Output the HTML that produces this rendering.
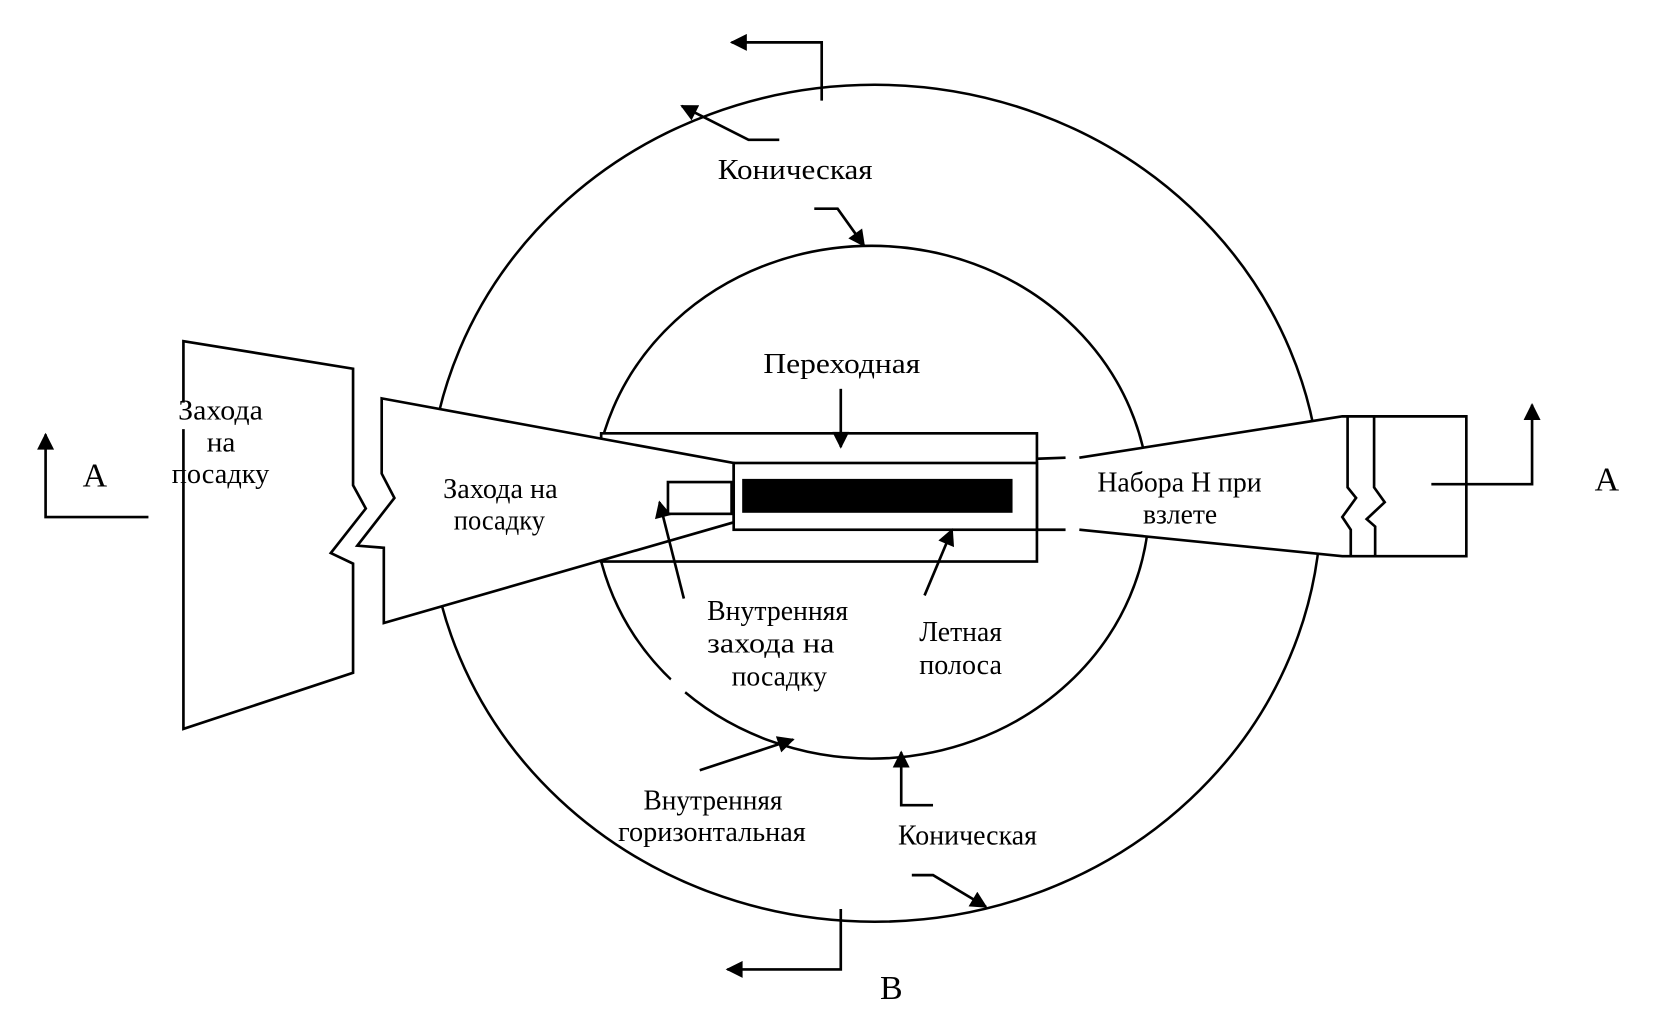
<!DOCTYPE html>
<html><head><meta charset="utf-8"><style>
html,body{margin:0;padding:0;background:#fff;}
svg{display:block;}
text{font-family:"Liberation Serif",serif;font-size:27px;fill:#000;}
</style></head><body>
<svg width="1654" height="1033" viewBox="0 0 1560 975" preserveAspectRatio="none" xmlns="http://www.w3.org/2000/svg">
<defs>
<marker id="ah2" viewBox="0 0 10 10" refX="9" refY="5" markerWidth="18" markerHeight="16" orient="auto" markerUnits="userSpaceOnUse">
<path d="M0,0 L10,5 L0,10 z" fill="#000"/></marker>
</defs>
<g fill="none" stroke="#000" stroke-width="2.4">
<ellipse cx="825" cy="475" rx="421" ry="395"/>
<ellipse cx="822" cy="474" rx="262" ry="242"/>
</g>
<rect x="630" y="640" width="18" height="16" fill="#fff" transform="rotate(35 639 648)"/>
<rect x="552" y="794" width="18" height="14" fill="#fff" transform="rotate(35 561 801)"/>
<g fill="#fff" stroke="#000" stroke-width="2.5">
<rect x="567" y="409" width="411" height="121"/>
<path d="M173,380 L173,322 L333,348 L333,458 L345,480 L312,522 L333,532 L333,635 L173,688 L173,405" />
<path d="M360,376 L692,437 L692,493 L362,588 L362,517 L337,515 L372,470 L360,447 Z"/>
<path d="M1018,432 L1266,393 L1383,393 L1383,525 L1266,525 L1018,500" />
</g>
<g fill="none" stroke="#000" stroke-width="2.5">
<line x1="978" y1="433" x2="1005" y2="432"/>
<line x1="978" y1="500" x2="1005" y2="500"/>
<path d="M1271,393 L1271,460 L1279,470 L1266,488 L1274,500 L1274,525"/>
<path d="M1296,393 L1296,460 L1306,474 L1289,490 L1297,497 L1297,525"/>
<rect x="692" y="437" width="286" height="63" fill="#fff"/>
<rect x="630" y="455" width="60" height="30" fill="#fff"/>
</g>
<rect x="700" y="452" width="255" height="32" fill="#000"/>
<g fill="none" stroke="#000" stroke-width="2.5">
<path d="M140,488 L43,488 L43,410" marker-end="url(#ah2)"/>
<path d="M1350,457 L1445,457 L1445,382" marker-end="url(#ah2)"/>
<path d="M775,95 L775,40 L690,40" marker-end="url(#ah2)"/>
<path d="M793,858 L793,915 L686,915" marker-end="url(#ah2)"/>
<path d="M735,132 L706,132 L643,100" marker-end="url(#ah2)"/>
<path d="M768,197 L790,197 L815,232" marker-end="url(#ah2)"/>
<path d="M793,367 L793,422" marker-end="url(#ah2)"/>
<path d="M645,565 L622,474" marker-end="url(#ah2)"/>
<path d="M872,562 L898,500" marker-end="url(#ah2)"/>
<path d="M660,727 L748,698" marker-end="url(#ah2)"/>
<path d="M880,760 L850,760 L850,710" marker-end="url(#ah2)"/>
<path d="M860,826 L880,826 L930,856" marker-end="url(#ah2)"/>
</g>
<g>
<text x="78" y="459" style="font-size:32px">A</text>
<text x="1504" y="463" style="font-size:32px">A</text>
<text x="830" y="943" style="font-size:32px">B</text>
<text x="677" y="169" textLength="146" lengthAdjust="spacingAndGlyphs">Коническая</text>
<text x="720" y="352" textLength="148" lengthAdjust="spacingAndGlyphs">Переходная</text>
<text x="168" y="396" textLength="80" lengthAdjust="spacingAndGlyphs">Захода</text>
<text x="195" y="426" textLength="27" lengthAdjust="spacingAndGlyphs">на</text>
<text x="162" y="456" textLength="92" lengthAdjust="spacingAndGlyphs">посадку</text>
<text x="418" y="470" textLength="108" lengthAdjust="spacingAndGlyphs">Захода на</text>
<text x="428" y="500" textLength="86" lengthAdjust="spacingAndGlyphs">посадку</text>
<text x="1035" y="464" textLength="155" lengthAdjust="spacingAndGlyphs">Набора Н при</text>
<text x="1078" y="494" textLength="70" lengthAdjust="spacingAndGlyphs">взлете</text>
<text x="667" y="585" textLength="133" lengthAdjust="spacingAndGlyphs">Внутренняя</text>
<text x="667" y="616" textLength="120" lengthAdjust="spacingAndGlyphs">захода на</text>
<text x="690" y="647" textLength="90" lengthAdjust="spacingAndGlyphs">посадку</text>
<text x="867" y="605" textLength="78" lengthAdjust="spacingAndGlyphs">Летная</text>
<text x="867" y="636" textLength="78" lengthAdjust="spacingAndGlyphs">полоса</text>
<text x="607" y="764" textLength="131" lengthAdjust="spacingAndGlyphs">Внутренняя</text>
<text x="583" y="794" textLength="177" lengthAdjust="spacingAndGlyphs">горизонтальная</text>
<text x="847" y="797" textLength="131" lengthAdjust="spacingAndGlyphs">Коническая</text>
</g>
</svg>
</body></html>
